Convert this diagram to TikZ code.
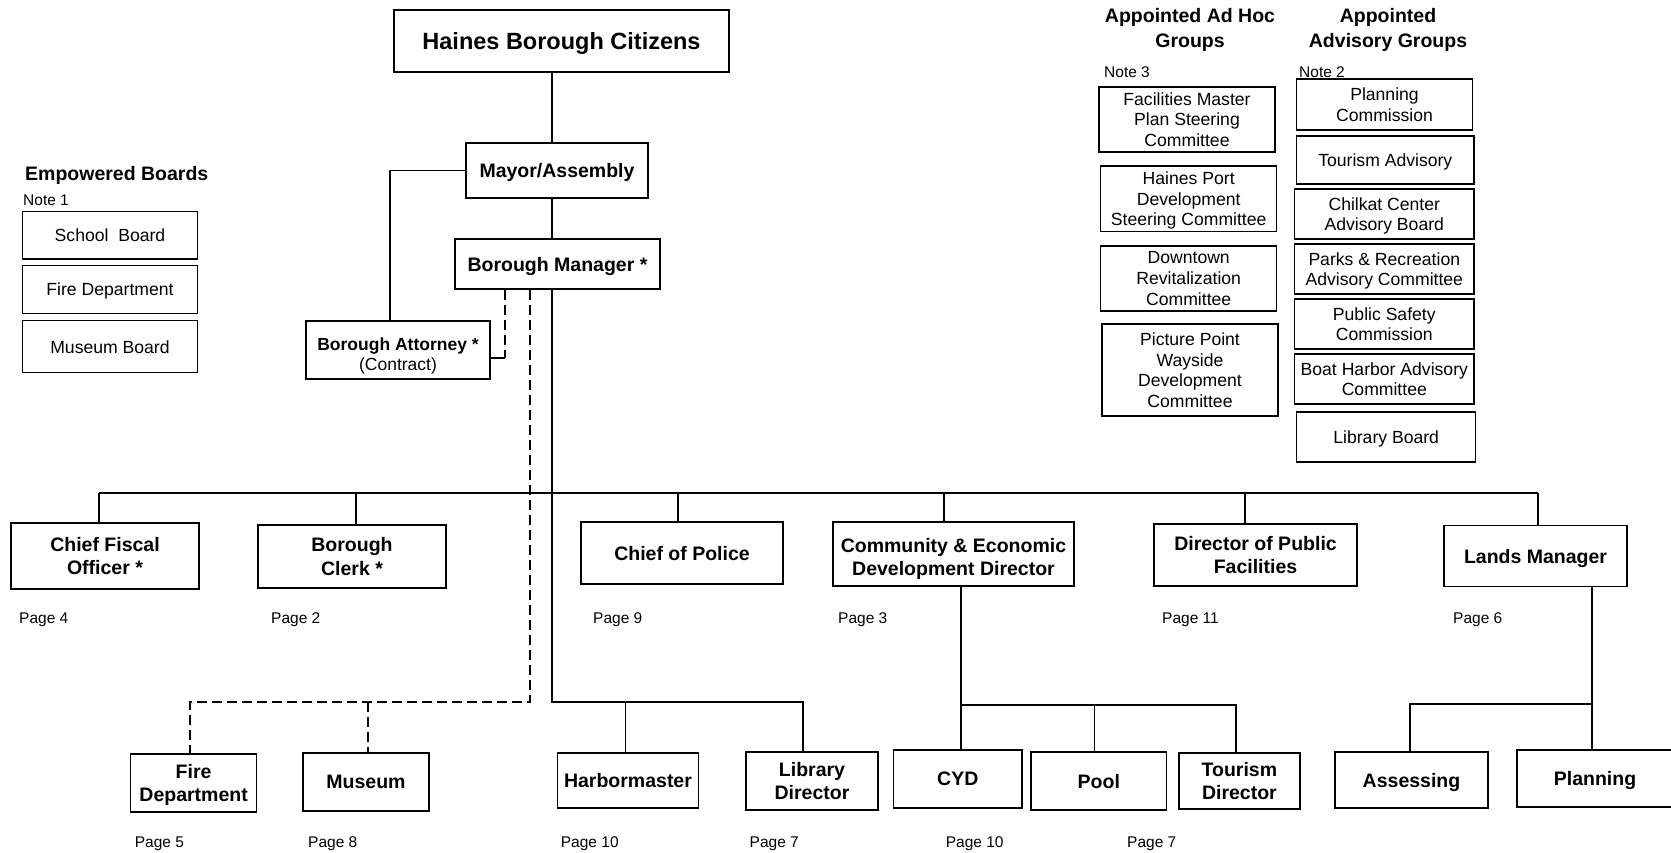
\documentclass[tikz,border=0pt]{standalone}
\usepackage{fontspec}
\setmainfont{Liberation Sans}
\usetikzlibrary{calc}

\begin{document}
\begin{tikzpicture}[
    x=1pt, y=-1pt,
    box/.style={draw, line width=1.3pt, align=center, inner sep=0pt, text depth=0pt},
    head/.style={box, font=\bfseries\fontsize{19.5}{23.4}\selectfont},
    small/.style={box, font=\fontsize{17.6}{20.7}\selectfont},
    title/.style={align=center, inner sep=0pt, font=\bfseries\fontsize{19.5}{25}\selectfont},
    note/.style={anchor=west, inner sep=0pt, font=\fontsize{15.5}{18}\selectfont},
    link/.style={line width=1.8pt},
    thinlink/.style={line width=1.3pt},
    dashlink/.style={line width=1.6pt, dash pattern=on 10pt off 5pt}
    ]

    \useasboundingbox (0,0) rectangle (1671,852);

    % top of the chart
    \node[head, minimum width=335pt, minimum height=62pt, font=\bfseries\fontsize{23.5}{28}\selectfont] (cit) at (561.5,41) {Haines Borough Citizens};
    \node[head, minimum width=182pt, minimum height=55pt] (mayor) at (557,170.5) {Mayor/Assembly};
    \node[head, minimum width=205pt, minimum height=50pt] (mgr) at (557.5,264) {Borough Manager *};
    \node[head, minimum width=184pt, minimum height=58pt, text height=40pt, font=\bfseries\fontsize{17.5}{20.5}\selectfont] (atty) at (398,350) {Borough Attorney *\\[-1pt]{\mdseries (Contract)}};

    \coordinate (spine) at (552,0);
    \draw[thinlink] (cit.south -| spine) -- (mayor.north -| spine);
    \draw[link] (mayor.south -| spine) -- (mgr.north -| spine);
    \draw[link] (mayor.west) -| ([xshift=-8pt]atty.north);
    \draw[dashlink] ([xshift=-52.5pt]mgr.south) -- ([xshift=-52.5pt,yshift=-7.7pt]mgr.south |- atty.east);
    \draw[link] ([yshift=-7.7pt]atty.east) -- ([xshift=-52.5pt,yshift=-7.7pt]mgr.south |- atty.east);

    % empowered boards
    \node[title, anchor=west] (hemp) at (25,175) {Empowered Boards};
    \node[note] (n1) at (23,200) {Note 1};
    \node[small, minimum width=174.6pt, minimum height=47.3pt] (school) at (110,235.3) {School\ \ Board};
    \node[small, minimum width=174.6pt, minimum height=47.6pt] (fireb) at (110,289.5) {Fire Department};
    \node[small, minimum width=174.6pt, minimum height=52pt] (museumb) at (110,346.7) {Museum Board};

    % ad hoc and advisory groups
    \node[title] (hadhoc) at (1190,29.5) {Appointed Ad Hoc\\Groups};
    \node[title] (hadv) at (1388,29.5) {Appointed\\Advisory Groups};
    \node[note] (n3) at (1104,72) {Note 3};
    \node[note] (n2) at (1299,72) {Note 2};

    \node[small, minimum width=176pt, minimum height=65pt] (fmp) at (1187,119.5) {Facilities Master\\Plan Steering\\Committee};
    \node[small, minimum width=176pt, minimum height=65.7pt] (hpd) at (1188.7,198.8) {Haines Port\\Development\\Steering Committee};
    \node[small, minimum width=176pt, minimum height=65pt] (drc) at (1188.7,278.5) {Downtown\\Revitalization\\Committee};
    \node[small, minimum width=176pt, minimum height=92pt] (ppw) at (1190,370) {Picture Point\\Wayside\\Development\\Committee};

    \node[small, minimum width=175.6pt, minimum height=51pt] (pc) at (1384.5,104.5) {Planning\\Commission};
    \node[small, minimum width=177.3pt, minimum height=48pt] (ta) at (1385.3,160) {Tourism Advisory};
    \node[small, minimum width=179.3pt, minimum height=50pt] (cc) at (1384.3,214) {Chilkat Center\\Advisory Board};
    \node[small, minimum width=179.3pt, minimum height=50pt] (pr) at (1384.3,269) {Parks \& Recreation\\Advisory Committee};
    \node[small, minimum width=179.3pt, minimum height=50pt] (ps) at (1384.3,324) {Public Safety\\Commission};
    \node[small, minimum width=179.3pt, minimum height=50pt] (bh) at (1384.3,379) {Boat Harbor Advisory\\Committee};
    \node[small, minimum width=179pt, minimum height=50pt] (lb) at (1386.2,437) {Library Board};

    % department heads
    \node[head, minimum width=188pt, minimum height=66pt] (cfo) at (105,556) {Chief Fiscal\\Officer *};
    \node[head, minimum width=188pt, minimum height=63pt] (clerk) at (352,556.5) {Borough\\Clerk *};
    \node[head, minimum width=202pt, minimum height=62pt] (police) at (682,553) {Chief of Police};
    \node[head, minimum width=241pt, minimum height=64pt, text height=43pt] (ced) at (953.5,554) {Community \& Economic\\Development Director};
    \node[head, minimum width=203pt, minimum height=62pt] (dpf) at (1255.5,555) {Director of Public\\Facilities};
    \node[head, minimum width=183pt, minimum height=61pt] (lands) at (1535.5,556) {Lands Manager};

    \coordinate (bus) at (0,493);
    \draw[link] ([xshift=-6pt]cfo.north |- bus) -- ([xshift=2.5pt]lands.north |- bus);
    \draw[link] ([xshift=-6pt]cfo.north |- bus) -- ([xshift=-6pt]cfo.north);
    \draw[link] ([xshift=4pt]clerk.north |- bus) -- ([xshift=4pt]clerk.north);
    \draw[link] ([xshift=-4.3pt]police.north |- bus) -- ([xshift=-4.3pt]police.north);
    \draw[link] ([xshift=-9.5pt]ced.north |- bus) -- ([xshift=-9.5pt]ced.north);
    \draw[link] ([xshift=-10.5pt]dpf.north |- bus) -- ([xshift=-10.5pt]dpf.north);
    \draw[link] ([xshift=2.5pt]lands.north |- bus) -- ([xshift=2.5pt]lands.north);

    \node[note] (p4) at (19,620) {Page 4};
    \node[note] (p2) at (271,620) {Page 2};
    \node[note] (p9) at (593,620) {Page 9};
    \node[note] (p3) at (838,620) {Page 3};
    \node[note] (p11) at (1162,620) {Page 11};
    \node[note] (p6) at (1453,620) {Page 6};

    % lower row
    \node[head, minimum width=126pt, minimum height=58pt] (fire) at (193.6,783) {Fire\\Department};
    \node[head, minimum width=126pt, minimum height=58pt] (museum) at (366,782) {Museum};
    \node[head, minimum width=141pt, minimum height=55pt] (harbor) at (628,780.4) {Harbormaster};
    \node[head, minimum width=132pt, minimum height=58pt] (libdir) at (812,781) {Library\\Director};
    \node[head, minimum width=128.4pt, minimum height=58pt] (cyd) at (957.8,779) {CYD};
    \node[head, minimum width=135.6pt, minimum height=58pt] (pool) at (1098.8,781) {Pool};
    \node[head, minimum width=121pt, minimum height=56pt] (tourdir) at (1239.4,781) {Tourism\\Director};
    \node[head, minimum width=153pt, minimum height=56pt] (assess) at (1411.5,780) {Assessing};
    \node[head, minimum width=156pt, minimum height=57pt] (plan) at (1595,778.5) {Planning};

    \coordinate (low) at (0,702);
    \coordinate (cedlow) at (0,705);
    \coordinate (landlow) at (0,704);

    % under the manager
    \draw[dashlink] ([xshift=-27.5pt]mgr.south) -- ([xshift=-27.5pt]mgr.south |- low) -| ([xshift=-3.6pt]fire.north);
    \draw[dashlink] ([xshift=2pt]museum.north |- low) -- ([xshift=2pt]museum.north);
    \draw[thinlink] ([xshift=-5.5pt]mgr.south) -- ([xshift=-5.5pt]mgr.south |- low) -| ([xshift=-9pt]libdir.north);
    \draw[link] ([xshift=-2.5pt]harbor.north |- low) -- ([xshift=-2.5pt]harbor.north);

    % under community & economic development
    \draw[link] ([xshift=7.2pt]ced.south) -- ([xshift=7.2pt]ced.south |- cyd.north);
    \draw[link] ([xshift=7.2pt]ced.south |- cedlow) -| ([xshift=-3.7pt]tourdir.north);
    \draw[link] ([xshift=-4.4pt]pool.north |- cedlow) -- ([xshift=-4.4pt]pool.north);

    % under lands
    \draw[link] ([xshift=56.5pt]lands.south) -- ([xshift=56.5pt]lands.south |- plan.north);
    \draw[link] ([xshift=56.5pt]lands.south |- landlow) -| ([xshift=-1.5pt]assess.north);

    \node[note] (p5) at (134.7,843.7) {Page 5};
    \node[note] (p8) at (308,843.7) {Page 8};
    \node[note] (p10a) at (560.7,843.7) {Page 10};
    \node[note] (p7a) at (749.5,843.7) {Page 7};
    \node[note] (p10b) at (945.6,843.7) {Page 10};
    \node[note] (p7b) at (1127,843.7) {Page 7};

\end{tikzpicture}
\end{document}
